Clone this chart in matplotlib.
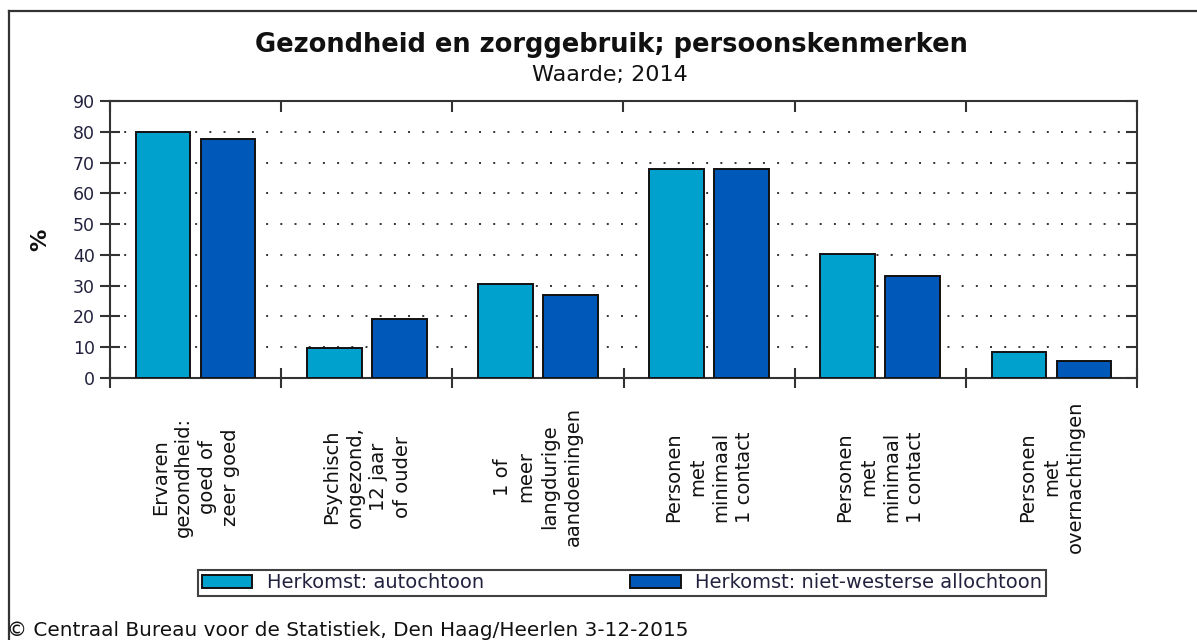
import matplotlib
matplotlib.use("Agg")
import matplotlib.pyplot as plt
import matplotlib.transforms as mtransforms
from matplotlib.patches import Patch
from matplotlib.lines import Line2D
import numpy as np

# ---- data ----
categories = [
    "Ervaren\ngezondheid:\ngoed of\nzeer goed",
    "Psychisch\nongezond,\n12 jaar\nof ouder",
    "1 of\nmeer\nlangdurige\naandoeningen",
    "Personen\nmet\nminimaal\n1 contact",
    "Personen\nmet\nminimaal\n1 contact",
    "Personen\nmet\novernachtingen",
]
series_names = ["Herkomst: autochtoon", "Herkomst: niet-westerse allochtoon"]
autochtoon = [80.0, 9.9, 30.6, 67.8, 40.3, 8.3]
niet_westers = [77.5, 19.3, 27.0, 67.8, 33.1, 5.4]
yticks = [0, 10, 20, 30, 40, 50, 60, 70, 80, 90]
title = "Gezondheid en zorggebruik; persoonskenmerken"
subtitle = "Waarde; 2014"
ylabel = "%"
footer = "\u00a9 Centraal Bureau voor de Statistiek, Den Haag/Heerlen 3-12-2015"

colors = ["#00A1CD", "#0058B8"]

W, H = 1197, 640
fig = plt.figure(figsize=(W / 100, H / 100), dpi=100)
fig.patch.set_facecolor("white")

ax = fig.add_axes([110 / W, (H - 378) / H, (1137 - 110) / W, (378 - 101) / H])

x = np.arange(len(categories))
bw = 0.32
off = 0.19
ax.bar(x - off, autochtoon, bw, color=colors[0], edgecolor="#111111", linewidth=1.4, zorder=3)
ax.bar(x + off, niet_westers, bw, color=colors[1], edgecolor="#111111", linewidth=1.4, zorder=3)

ax.set_xlim(-0.5, len(categories) - 0.5)
ax.set_ylim(0, 90)

# dotted grid
for v in yticks[1:-1]:
    ax.axhline(v, color="#333333", lw=1.4, ls=(0, (1.0, 6.3)), zorder=1)

# spines
for s in ax.spines.values():
    s.set_color("#333333")
    s.set_linewidth(1.5)

# y ticks
ax.set_yticks(yticks)
ax.tick_params(axis="y", which="major", direction="inout", length=14, width=1.5,
               colors="#333333", labelcolor="#22223f", labelsize=12.5, left=True,
               right=False, labelright=False, pad=4)
ay = ax.secondary_yaxis("right")
ay.set_yticks(yticks)
ay.tick_params(direction="in", length=8, width=1.5, colors="#333333", labelright=False)
ay.spines["right"].set_visible(False)

# x ticks at category boundaries
bounds = np.arange(len(categories) + 1) - 0.5
ax.set_xticks(bounds)
ax.set_xticklabels([])
ax.tick_params(axis="x", direction="inout", length=14, width=1.5, colors="#333333", top=False)
ax2 = ax.secondary_xaxis("top")
ax2.set_xticks(bounds)
ax2.set_xticklabels([])
ax2.tick_params(direction="in", length=8, width=1.5, colors="#333333")
ax2.spines["top"].set_visible(False)

# category labels
trans = mtransforms.blended_transform_factory(ax.transData, fig.transFigure)
for i, lab in enumerate(categories):
    ax.text(i, (H - 477) / H, lab, transform=trans, rotation=90, ha="center", va="center",
            multialignment="center", fontsize=14, color="#111111", linespacing=1.3)

# titles
fig.text(611 / W, (H - 45) / H, title, ha="center", va="center", fontsize=18.5,
         fontweight="bold", color="#111111")
fig.text(610 / W, (H - 75) / H, subtitle, ha="center", va="center", fontsize=16,
         color="#111111")
fig.text(40 / W, (H - 240) / H, ylabel, ha="center", va="center", rotation=90,
         fontsize=16, fontweight="bold", color="#111111")

# legend
handles = [Patch(facecolor=colors[0], edgecolor="#111111", linewidth=1.4),
           Patch(facecolor=colors[1], edgecolor="#111111", linewidth=1.4)]
leg = fig.legend(handles, series_names, loc="center", bbox_to_anchor=(622 / W, (H - 583) / H),
                 ncol=2, frameon=True, fancybox=False, shadow=False, fontsize=14,
                 handlelength=2.6, handleheight=0.6, handletextpad=0.75, columnspacing=7.5,
                 borderpad=0.18, borderaxespad=0)
leg.get_frame().set_edgecolor("#111111")
leg.get_frame().set_linewidth(1.5)
for t in leg.get_texts():
    t.set_color("#22223f")

# footer
fig.text(7 / W, (H - 631) / H, footer, ha="left", va="center", fontsize=14.4, color="#111111")

# outer frame
fig.add_artist(Line2D([9 / W, 1.0], [1 - 11 / H, 1 - 11 / H], transform=fig.transFigure,
                      color="#333333", lw=1.6))
fig.add_artist(Line2D([9 / W, 9 / W], [0, 1 - 11 / H], transform=fig.transFigure,
                      color="#333333", lw=1.6))

fig.savefig("out.png", dpi=100, facecolor="white")
